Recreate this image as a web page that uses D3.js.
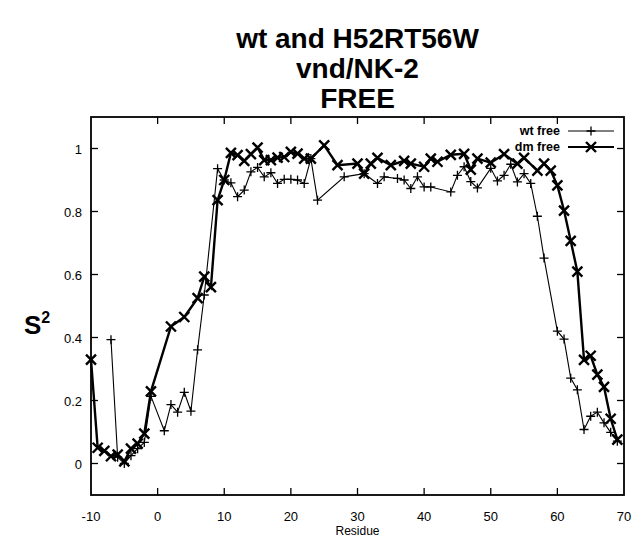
<!DOCTYPE html>
<html><head><meta charset="utf-8">
<script src="https://cdn.jsdelivr.net/npm/d3@7"></script>
<style>body{margin:0;background:#fff}svg{display:block}</style>
</head><body><svg id="c" width="642" height="537"></svg>
<script>
// ---- data ----
const wtResidue = [-7,-6,-5,-4,-3,-2,-1,1,2,3,4,5,6,7,9,10,11,12,13,14,15,16,17,18,19,20,21,22,23,24,28,31,33,34,36,37,38,39,40,41,44,45,46,47,48,50,51,52,53,54,55,56,57,58,60,61,62,63,64,65,66,67,68,69];
const wtS2 = [0.393,0.02,0.0,0.025,0.047,0.067,0.213,0.104,0.187,0.163,0.226,0.166,0.361,0.535,0.936,0.90,0.891,0.847,0.868,0.926,0.94,0.91,0.923,0.889,0.902,0.902,0.90,0.889,0.968,0.836,0.91,0.92,0.889,0.91,0.905,0.90,0.873,0.91,0.878,0.878,0.862,0.915,0.942,0.895,0.875,0.937,0.897,0.915,0.95,0.894,0.92,0.889,0.785,0.652,0.42,0.395,0.271,0.234,0.108,0.15,0.163,0.129,0.099,0.071];
const dmResidue = [-10,-9,-8,-7,-6,-5,-4,-3,-2,-1,2,4,6,7,8,9,10,11,12,13,14,15,16,17,18,19,20,21,22,23,25,27,30,31,32,33,35,37,38,40,41,42,44,46,47,48,50,52,54,55,57,58,59,60,61,62,63,64,65,66,67,68,69];
const dmS2 = [0.33,0.05,0.04,0.023,0.028,0.007,0.047,0.063,0.095,0.229,0.435,0.465,0.525,0.593,0.56,0.836,0.90,0.986,0.979,0.961,0.982,1.003,0.963,0.963,0.971,0.973,0.989,0.984,0.968,0.968,1.01,0.947,0.952,0.92,0.952,0.97,0.947,0.961,0.952,0.942,0.968,0.958,0.98,0.983,0.933,0.968,0.955,0.982,0.952,0.97,0.93,0.952,0.93,0.883,0.803,0.707,0.609,0.329,0.342,0.282,0.243,0.142,0.076];
const xTicks = [-10,0,10,20,30,40,50,60,70];
const yTicks = [0,0.2,0.4,0.6,0.8,1];
const yTickLabels = ["0","0.2","0.4","0.6","0.8","1"];
const titleLines = ["wt and H52RT56W","vnd/NK-2","FREE"];
const seriesNames = ["wt free","dm free"];
const xLabel = "Residue";

// ---- layout ----
const svg = d3.select("#c");
const L = 91, R = 624, T = 117, B = 495;
const x = d3.scaleLinear().domain([-10,70]).range([L,R]);
const y = d3.scaleLinear().domain([-0.1,1.1]).range([B,T]);
const font = "'Liberation Sans', Arial, Helvetica, sans-serif";

// title
svg.append("g").selectAll("text").data(titleLines).join("text")
  .attr("x", (L+R)/2).attr("y", (d,i)=>48+i*30)
  .attr("text-anchor","middle").attr("font-family",font)
  .attr("font-weight","bold").attr("font-size",28).attr("fill","#000")
  .text(d=>d);

// y label S^2
const yl = svg.append("text").attr("x",24).attr("y",334)
  .attr("font-family",font).attr("font-weight","bold").attr("font-size",26).attr("fill","#000");
yl.append("tspan").text("S");
yl.append("tspan").attr("font-size",16).attr("dy",-11).text("2");

// frame
svg.append("rect").attr("x",L).attr("y",T).attr("width",R-L).attr("height",B-T)
  .attr("fill","none").attr("stroke","#000").attr("stroke-width",1.8);

// ticks
const tk = 7;
const tg = svg.append("g").attr("stroke","#000").attr("stroke-width",1.3);
yTicks.forEach(v=>{
  tg.append("line").attr("x1",L).attr("x2",L+tk).attr("y1",y(v)).attr("y2",y(v));
  tg.append("line").attr("x1",R).attr("x2",R-tk).attr("y1",y(v)).attr("y2",y(v));
});
xTicks.slice(1,-1).forEach(v=>{
  tg.append("line").attr("x1",x(v)).attr("x2",x(v)).attr("y1",B).attr("y2",B-tk);
  tg.append("line").attr("x1",x(v)).attr("x2",x(v)).attr("y1",T).attr("y2",T+tk);
});

// tick labels
svg.append("g").selectAll("text").data(yTicks).join("text")
  .attr("x",L-9).attr("y",d=>y(d)+5).attr("text-anchor","end")
  .attr("font-family",font).attr("font-size",13).attr("fill","#000")
  .text((d,i)=>yTickLabels[i]);
svg.append("g").selectAll("text").data(xTicks).join("text")
  .attr("x",d=>x(d)).attr("y",521).attr("text-anchor","middle")
  .attr("font-family",font).attr("font-size",13).attr("fill","#000")
  .text(d=>d);
svg.append("text").attr("x",(L+R)/2).attr("y",535).attr("text-anchor","middle")
  .attr("font-family",font).attr("font-size",12).attr("fill","#000").text(xLabel);

// series
const wt = wtResidue.map((r,i)=>[r,wtS2[i]]);
const dm = dmResidue.map((r,i)=>[r,dmS2[i]]);
const line = d3.line().x(d=>x(d[0])).y(d=>y(d[1]));
const plusPath = (cx,cy,s)=>`M${cx-s},${cy}H${cx+s}M${cx},${cy-s}V${cy+s}`;
const crossPath = (cx,cy,s)=>`M${cx-s},${cy-s}L${cx+s},${cy+s}M${cx-s},${cy+s}L${cx+s},${cy-s}`;

svg.append("path").datum(wt).attr("d",line).attr("fill","none").attr("stroke","#000").attr("stroke-width",1.1);
svg.append("g").selectAll("path").data(wt).join("path")
  .attr("d",d=>plusPath(x(d[0]),y(d[1]),4.5)).attr("stroke","#000").attr("stroke-width",1.3).attr("fill","none");

svg.append("path").datum(dm).attr("d",line).attr("fill","none").attr("stroke","#000").attr("stroke-width",2.4);
svg.append("g").selectAll("path").data(dm).join("path")
  .attr("d",d=>crossPath(x(d[0]),y(d[1]),5)).attr("stroke","#000").attr("stroke-width",2.4).attr("fill","none");

// legend
const lg = svg.append("g");
const legY = [131,147];
seriesNames.forEach((n,i)=>{
  lg.append("text").attr("x",560).attr("y",legY[i]+4).attr("text-anchor","end")
    .attr("font-family",font).attr("font-weight","bold").attr("font-size",12.5).attr("fill","#000").text(n);
  lg.append("line").attr("x1",568).attr("x2",614).attr("y1",legY[i]).attr("y2",legY[i])
    .attr("stroke","#000").attr("stroke-width",i?2.2:1.1);
  lg.append("path").attr("d", i ? crossPath(591,legY[i],5) : plusPath(591,legY[i],4.5))
    .attr("stroke","#000").attr("stroke-width",i?2.4:1.3).attr("fill","none");
});
</script>
</body></html>
